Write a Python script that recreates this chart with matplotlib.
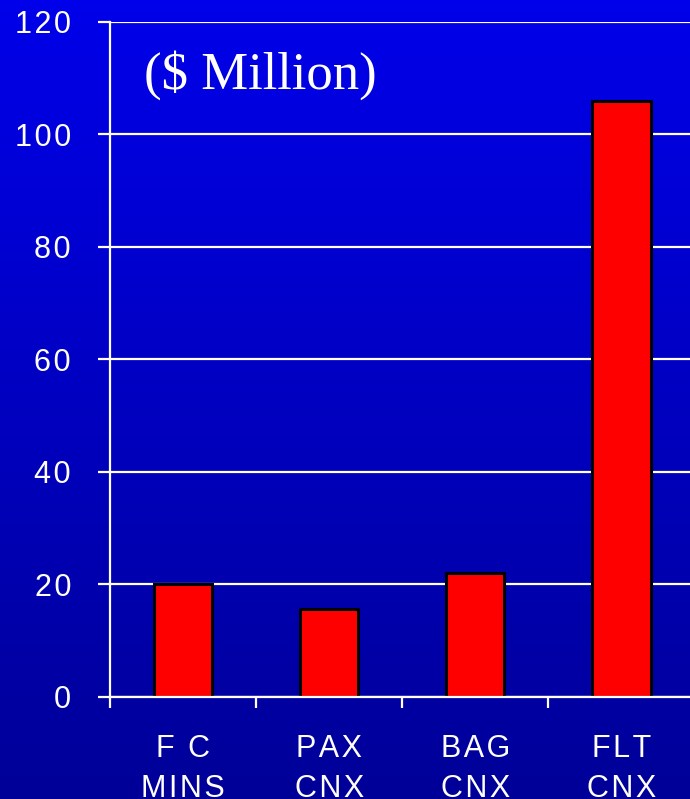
import numpy as np
import matplotlib
matplotlib.use("Agg")
import matplotlib.pyplot as plt
from matplotlib.colors import LinearSegmentedColormap

plt.rcParams["font.family"] = ["Liberation Sans", "DejaVu Sans"]

# Data
categories = ["F\u200a \u200aC\nM\u200aI\u200aN\u200aS", "P\u200aA\u200aX\nC\u200aN\u200aX",
              "B\u200aA\u200aG\nC\u200aN\u200aX", "F\u200aL\u200aT\nC\u200aN\u200aX"]
values = [20, 15.6, 22, 106]
y_ticks = [0, 20, 40, 60, 80, 100, 120]

fig = plt.figure(figsize=(6.9, 7.99), dpi=100)

# Blue gradient background
bg = fig.add_axes([0, 0, 1, 1], zorder=-1)
grad = np.linspace(0, 1, 256).reshape(-1, 1)
cmap = LinearSegmentedColormap.from_list("bg", ["#0000EA", "#000098"])
bg.imshow(grad, aspect="auto", cmap=cmap, extent=[0, 1, 0, 1], origin="upper")
bg.axis("off")

ax = fig.add_axes([0.1594, 0.1277, 0.8406, 0.8448])
ax.patch.set_alpha(0)

x = np.arange(len(categories))
ax.bar(x, values, width=0.4, color="#FF0000", edgecolor="black", linewidth=2.2, zorder=3)

ax.set_xlim(-0.5, 3.47)
ax.set_ylim(0, 120)

# Grid
ax.set_yticks(y_ticks)
ax.set_yticklabels(["\u200a".join(str(t)) for t in y_ticks])
ax.yaxis.grid(True, color="white", linewidth=1.6)
ax.set_axisbelow(True)

# x ticks: labels at centres, tick marks at boundaries
ax.set_xticks(x)
ax.set_xticklabels(categories, linespacing=1.42)
ax.set_xticks(np.arange(-0.5, 3.0, 1.0), minor=True)
ax.tick_params(axis="x", which="major", length=0, pad=27, colors="white", labelsize=22)
ax.tick_params(axis="x", which="minor", length=8, width=1.6, direction="out", color="white")
ax.tick_params(axis="y", length=9, width=1.6, direction="out", color="white",
               labelcolor="white", labelsize=22, pad=19)

for side in ["top", "right"]:
    ax.spines[side].set_visible(False)
for side in ["left", "bottom"]:
    ax.spines[side].set_color("white")
    ax.spines[side].set_linewidth(1.6)
    ax.spines[side].set_zorder(4)

ax.text(-0.27, 110.6, "($ Million)", color="white", fontsize=38,
        family="Liberation Serif", ha="left", va="center")

fig.savefig("out.png", dpi=100)
